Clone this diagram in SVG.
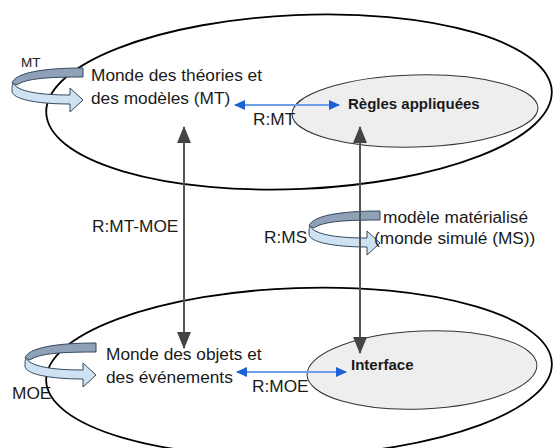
<svg xmlns="http://www.w3.org/2000/svg" width="553" height="448" viewBox="0 0 553 448">
<style>
text{font-family:"Liberation Sans",Arial,sans-serif;fill:#1a1a1a;font-size:17.3px}
.b{font-weight:bold;font-size:15px}
.big{fill:none;stroke:#000;stroke-width:1.8}
.in{fill:#eeeeee;stroke:#333;stroke-width:1}
.gl{stroke:#555;stroke-width:2;fill:none}
.bl{stroke:#6d9eeb;stroke-width:2;fill:none}
.back{fill:#8fa1b6;stroke:#34495e;stroke-width:1}
.front{fill:#cfe2f3;stroke:#34495e;stroke-width:1}
</style>
<defs>
<marker id="gh" viewBox="0 0 17 14" refX="16" refY="7" markerWidth="17" markerHeight="14" markerUnits="userSpaceOnUse" orient="auto-start-reverse"><path d="M0,0 L17,7 L0,14 Z" fill="#444"/></marker>
<marker id="bh" viewBox="0 0 11 10" refX="10" refY="5" markerWidth="11" markerHeight="10" markerUnits="userSpaceOnUse" orient="auto-start-reverse"><path d="M0,0 L11,5 L0,10 Z" fill="#1a62d6"/></marker>
<g id="rot">
<path class="back" d="M71,0 L71,9 C40,9 14,10 5,17 L0,15 C3,5 30,0 71,0 Z"/>
<path class="front" d="M1,15 C5,23 25,27 58,27 L58,20 L71,32 L58,44 L58,36 C24,36 0,31 0,23 C0,20 0,17 1,15 Z"/>
</g>
</defs>
<g id="mt">
<ellipse class="big" cx="299" cy="102" rx="253" ry="87" transform="rotate(-2.5 299 102)"/>
<text x="91" y="81">Monde des théories et</text>
<text x="91" y="104">des modèles (MT)</text>
</g>
<g id="moe">
<ellipse class="big" cx="299" cy="372" rx="253" ry="84" transform="rotate(-2 299 372)"/>
<text x="106" y="360">Monde des objets et</text>
<text x="106" y="383">des événements</text>
</g>
<g id="regles">
<ellipse class="in" cx="415" cy="111" rx="123" ry="36" transform="rotate(-1.5 415 111)"/>
<text class="b" x="348" y="109">Règles appliquées</text>
</g>
<g id="interface">
<ellipse class="in" cx="422" cy="370" rx="115" ry="39" transform="rotate(-2.5 422 370)"/>
<text class="b" x="351" y="370">Interface</text>
</g>
<g id="icon-mt">
<use href="#rot" x="12" y="68"/>
<text x="21" y="67" style="font-size:13.5px">MT</text>
</g>
<g id="icon-moe">
<use href="#rot" x="25" y="343"/>
<text x="12" y="399">MOE</text>
</g>
<g id="icon-ms">
<use href="#rot" x="309" y="211"/>
<text x="264" y="243">R:MS</text>
<text x="383" y="223">modèle matérialisé</text>
<text x="374" y="244">(monde simulé (MS))</text>
</g>
<g id="connectors">
<line class="gl" x1="184" y1="127" x2="184" y2="348" marker-start="url(#gh)" marker-end="url(#gh)"/>
<line class="gl" x1="360" y1="127" x2="360" y2="353" marker-start="url(#gh)" marker-end="url(#gh)"/>
<line class="bl" x1="235" y1="105" x2="339" y2="105" marker-start="url(#bh)" marker-end="url(#bh)"/>
<line class="bl" x1="237" y1="372" x2="346" y2="372" marker-start="url(#bh)" marker-end="url(#bh)"/>
<text x="253" y="125">R:MT</text>
<text x="252" y="392">R:MOE</text>
<text x="92" y="232">R:MT-MOE</text>
</g>
</svg>
